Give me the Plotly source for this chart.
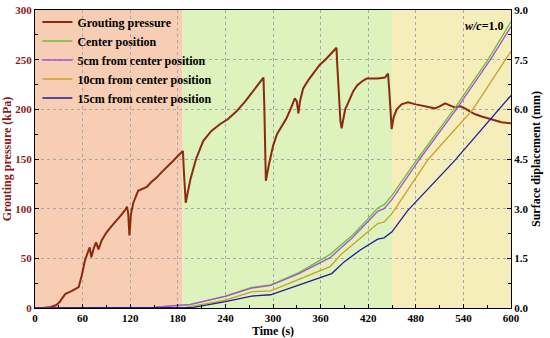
import plotly.graph_objects as go

# ---- Data ----
t_p = [0, 10, 20, 27, 31, 35, 38, 46, 55, 59, 63, 67, 69, 71, 74, 77, 80, 84, 90, 96, 103, 108, 113, 116, 117.5, 119, 121, 124, 130, 135, 141, 147, 153, 160, 167, 174, 180, 186.5, 187.5, 190, 193, 196, 203, 212, 222, 233, 243, 254, 265, 275, 282, 288, 289, 291, 295, 300, 305, 311, 317, 322, 327.5, 330, 332, 334, 338, 345, 352, 359, 366, 372, 378, 380, 381, 383, 385, 386.5, 388, 391, 395, 401, 406, 412, 418, 424, 432, 441, 445, 446.5, 448, 449.6, 452, 456, 462, 470, 480, 492, 504, 510, 517, 523, 529, 536, 542, 548, 555, 562, 570, 578, 588, 600]
pressure = [0, 0, 1, 3, 6, 11, 14, 17, 21, 33, 48, 57, 61, 51, 60, 66, 59, 68, 76, 82, 88, 93, 98, 102, 95, 73, 95, 106, 118, 120, 122, 127, 131, 137, 143, 148, 153, 158, 140, 106, 118, 130, 150, 168, 178, 185, 190, 198, 208, 218, 225, 232, 205, 128, 145, 163, 175, 183, 191, 200, 211, 208, 196, 208, 221, 230, 238, 245, 250, 255, 260, 262, 245, 210, 188, 181, 188, 200, 207, 218, 224, 228, 231, 231, 231, 232, 236, 220, 195, 180, 192, 200, 205, 207, 205, 203, 201, 203, 206, 204, 202, 203, 201, 198, 195, 193, 191, 189, 187, 186]

t_center = [0, 130, 150, 180, 195, 240, 273, 297, 332, 372, 400, 420, 432, 440, 450, 482, 528, 571, 600]
d_center = [0, 0, 0.02, 0.08, 0.1, 0.36, 0.62, 0.7, 1.06, 1.62, 2.2, 2.7, 3.02, 3.12, 3.4, 4.5, 6.0, 7.5, 8.65]

t_5cm = [0, 130, 150, 180, 195, 240, 273, 297, 332, 372, 400, 420, 432, 440, 450, 485, 531, 574, 600]
d_5cm = [0, 0, 0.02, 0.08, 0.1, 0.35, 0.6, 0.68, 1.03, 1.52, 2.12, 2.62, 2.92, 3.0, 3.28, 4.5, 6.0, 7.5, 8.5]

t_10cm = [0, 150, 190, 240, 273, 297, 332, 372, 385, 400, 420, 432, 440, 450, 496, 552, 593, 600]
d_10cm = [0, 0, 0.02, 0.24, 0.49, 0.52, 0.85, 1.25, 1.6, 1.9, 2.3, 2.55, 2.6, 2.85, 4.5, 6.0, 7.5, 7.75]

t_15cm = [0, 190, 200, 240, 273, 297, 332, 374, 390, 410, 432, 440, 450, 470, 529, 585, 600]
d_15cm = [0, 0, 0.02, 0.19, 0.36, 0.4, 0.7, 1.04, 1.4, 1.75, 2.08, 2.12, 2.3, 2.95, 4.45, 6.0, 6.42]

stage_bounds = [0, 186, 450, 600]
stage_colors = ["#F7CDB3", "#DDF2BC", "#F6EEBA"]

x_ticks = list(range(0, 601, 60))
y_ticks = list(range(0, 301, 50))
y2_ticks = [0.0, 1.5, 3.0, 4.5, 6.0, 7.5, 9.0]

FONT = "Liberation Serif"
RED = "#8B1A1A"


def tfont(color="black", size=11):
    return dict(family=FONT, size=size, color=color)


def b(s):
    return "<b>" + s + "</b>"


fig = go.Figure()
fig.add_trace(go.Scatter(x=t_p, y=pressure, mode="lines", name=b("Grouting pressure"),
                         line=dict(color="#8B2A0E", width=2)))
fig.add_trace(go.Scatter(x=t_center, y=d_center, mode="lines", name=b("Center position"),
                         line=dict(color="#6DBE3C", width=1.3), yaxis="y2"))
fig.add_trace(go.Scatter(x=t_5cm, y=d_5cm, mode="lines", name=b("5cm from center position"),
                         line=dict(color="#A650D8", width=1.3), yaxis="y2"))
fig.add_trace(go.Scatter(x=t_10cm, y=d_10cm, mode="lines", name=b("10cm from center position"),
                         line=dict(color="#C8A02A", width=1.3), yaxis="y2"))
fig.add_trace(go.Scatter(x=t_15cm, y=d_15cm, mode="lines", name=b("15cm from center position"),
                         line=dict(color="#1F1F9A", width=1.3), yaxis="y2"))

for i in range(3):
    fig.add_shape(type="rect", xref="x", yref="paper", x0=stage_bounds[i], x1=stage_bounds[i + 1],
                  y0=0, y1=1, fillcolor=stage_colors[i], line=dict(width=0), layer="below")

fig.add_annotation(xref="paper", yref="paper", x=0.99, y=0.945, xanchor="right", yanchor="middle",
                   text="<b><i>w/c</i>=1.0</b>", showarrow=False, font=tfont(size=12))

fig.update_layout(
    width=550, height=338,
    margin=dict(l=35, r=39, t=9, b=30),
    paper_bgcolor="white", plot_bgcolor="rgba(0,0,0,0)",
    font=dict(family=FONT, color="black"),
    showlegend=True,
    legend=dict(x=0.005, y=1.005, xanchor="left", yanchor="top", bgcolor="rgba(0,0,0,0)",
                font=tfont(size=12), itemwidth=30, tracegroupgap=0),
    xaxis=dict(range=[0, 600], tickvals=x_ticks, ticktext=[b(str(v)) for v in x_ticks],
               showline=True, linecolor="black", linewidth=1.2,
               mirror=True, ticks="inside", ticklen=4, tickcolor="black", automargin=False,
               minor=dict(ticks="inside", ticklen=2.5, dtick=30, tickcolor="black"),
               showgrid=True, gridcolor="#A8A8A8", griddash="dot", gridwidth=0.8,
               zeroline=False, tickfont=tfont(),
               title=dict(text=b("Time (s)"), font=tfont(size=12), standoff=0)),
    yaxis=dict(range=[0, 300], tickvals=y_ticks, ticktext=[b(str(v)) for v in y_ticks],
               showline=True, linecolor="black", linewidth=1.2,
               ticks="inside", ticklen=4, tickcolor="black", automargin=False,
               minor=dict(ticks="inside", ticklen=2.5, dtick=25, tickcolor="black"),
               showgrid=True, gridcolor="#A8A8A8", griddash="dot", gridwidth=0.8,
               zeroline=False, tickfont=tfont(RED),
               title=dict(text=b("Grouting pressure (kPa)"), font=tfont(RED, 12), standoff=4)),
    yaxis2=dict(range=[0, 9], tickvals=y2_ticks, ticktext=[b(f"{v:.1f}") for v in y2_ticks],
                overlaying="y", side="right",
                showline=True, linecolor="black", linewidth=1.2, automargin=False,
                ticks="inside", ticklen=4, tickcolor="black",
                minor=dict(ticks="inside", ticklen=2.5, dtick=0.75, tickcolor="black"),
                showgrid=False, zeroline=False, tickfont=tfont(),
                title=dict(text=b("Surface diplacement (mm)"), font=tfont(size=12), standoff=4)),
)

# remove the default 8px page margin so the 550x338 figure fills the window exactly
fig.write_html("out.html", config={"displayModeBar": False},
               post_script="document.body.style.margin='0';")
